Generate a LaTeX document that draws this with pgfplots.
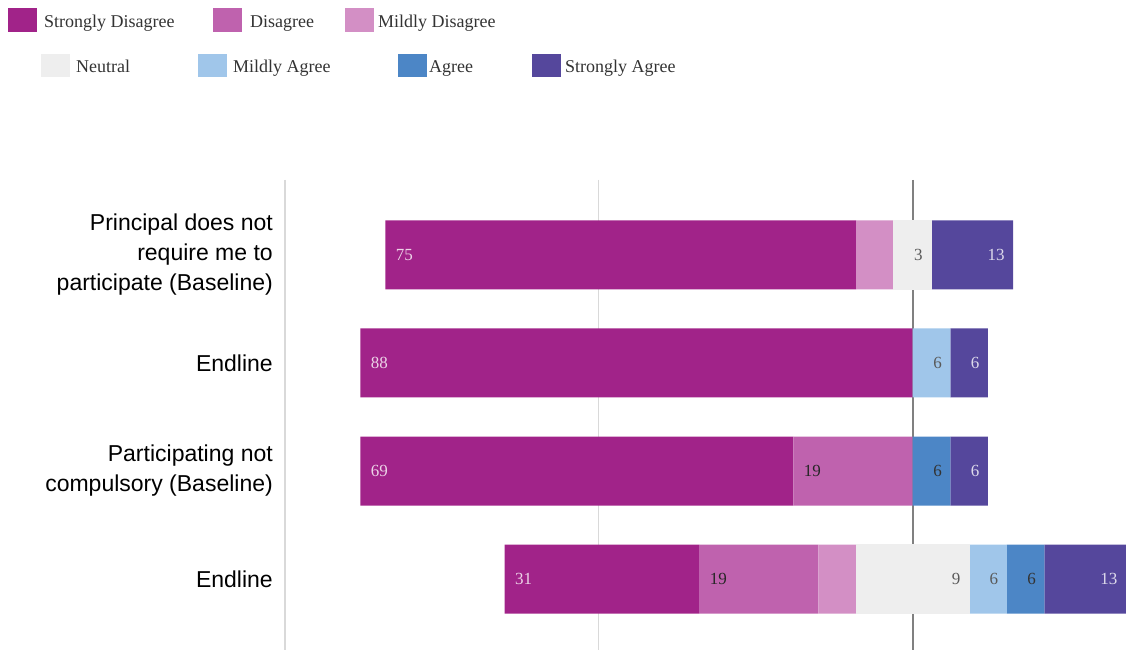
\documentclass[border=0pt]{standalone}
\usepackage{fontspec}
\setmainfont{Liberation Serif}
\newfontfamily\sansf{Liberation Sans}
\usepackage{pgfplots}
\pgfplotsset{compat=1.18}
\definecolor{cSD}{HTML}{A12389}
\definecolor{cD}{HTML}{BF62AE}
\definecolor{cMD}{HTML}{D38FC5}
\definecolor{cN}{HTML}{EEEEEE}
\definecolor{cMA}{HTML}{A0C6EA}
\definecolor{cA}{HTML}{4C86C6}
\definecolor{cSA}{HTML}{55479C}
\definecolor{legtext}{HTML}{333333}
\begin{document}
\begin{tikzpicture}
\useasboundingbox (0,0) rectangle (1126pt,650pt);
\pgfplotsset{
  common/.style={
    at={(285pt,0pt)}, anchor=south west, scale only axis,
    width=841pt, height=470pt,
    xmin=-100, xmax=34, ymin=-0.694, ymax=3.657, y dir=reverse,
    xbar stacked, bar width=69pt,
  },
  lab/.style={nodes near coords, point meta=explicit symbolic,
    every node near coord/.append style={font=\fontsize{17}{17}\selectfont, #1}},
  labneg/.style={lab={anchor=west, xshift={7pt-(\pgfplotspointmeta+0)*3.138pt}, #1}},
  labpos/.style={lab={anchor=east, xshift={-5pt+(\pgfplotspointmeta+0)*3.138pt}, #1}},
}
% legend
\begin{scope}[font=\fontsize{18}{18}\selectfont]
\fill[cSD] (8pt,642pt) rectangle (37pt,618pt);
\node[anchor=base west, inner sep=0pt, text=legtext] at (44pt,622pt) {Strongly Disagree};
\fill[cD] (213pt,642pt) rectangle (242pt,618pt);
\node[anchor=base west, inner sep=0pt, text=legtext] at (250pt,622pt) {Disagree};
\fill[cMD] (345pt,642pt) rectangle (374pt,618pt);
\node[anchor=base west, inner sep=0pt, text=legtext] at (378pt,622pt) {Mildly Disagree};
\fill[cN] (41pt,596pt) rectangle (70pt,573pt);
\node[anchor=base west, inner sep=0pt, text=legtext] at (76pt,577pt) {Neutral};
\fill[cMA] (198pt,596pt) rectangle (227pt,573pt);
\node[anchor=base west, inner sep=0pt, text=legtext] at (233pt,577pt) {Mildly Agree};
\fill[cA] (398pt,596pt) rectangle (427pt,573pt);
\node[anchor=base west, inner sep=0pt, text=legtext] at (429pt,577pt) {Agree};
\fill[cSA] (532pt,596pt) rectangle (561pt,573pt);
\node[anchor=base west, inner sep=0pt, text=legtext] at (565pt,577pt) {Strongly Agree};
\end{scope}
% negative side
\begin{axis}[common,
  axis line style={draw=none},
  major tick length=0pt,
  xtick={-100,-50}, xticklabels={},
  xmajorgrids, grid style={draw=black!15, line width=1.3pt},
  extra x ticks={0}, extra x tick labels={},
  extra x tick style={grid style={draw=black!50, line width=2.2pt}},
  ytick={0,1,2,3},
  yticklabels={{Principal does not\\require me to\\participate (Baseline)},Endline,{Participating not\\compulsory (Baseline)},Endline},
  yticklabel style={align=right, font=\sansf\fontsize{23}{30}\selectfont, inner sep=0pt, xshift=-12pt, text=black},
]
\addplot[fill=cN, draw=cN, line width=0.8pt] coordinates {(-3,0) (0,1) (0,2) (-9,3)};
\addplot[fill=cMD, draw=none] coordinates {(-6,0) (0,1) (0,2) (-6,3)};
\addplot[fill=cD, draw=none, labneg={text=black!85}] coordinates {(0,0) [] (0,1) [] (-19,2) [19] (-19,3) [19]};
\addplot[fill=cSD, draw=none, labneg={text=white!80!cSD}] coordinates {(-75,0) [75] (-88,1) [88] (-69,2) [69] (-31,3) [31]};
\end{axis}
% positive side
\begin{axis}[common, hide axis]
\addplot[fill=cN, draw=cN, line width=0.8pt, labpos={text=black!65}] coordinates {(3,0) [3] (0,1) [] (0,2) [] (9,3) [9]};
\addplot[fill=cMA, draw=none, labpos={text=black!65}] coordinates {(0,0) [] (6,1) [6] (0,2) [] (6,3) [6]};
\addplot[fill=cA, draw=none, labpos={text=black!80}] coordinates {(0,0) [] (0,1) [] (6,2) [6] (6,3) [6]};
\addplot[fill=cSA, draw=none, labpos={text=white!80!cSA}] coordinates {(13,0) [13] (6,1) [6] (6,2) [6] (13,3) [13]};
\end{axis}
\end{tikzpicture}
\end{document}
